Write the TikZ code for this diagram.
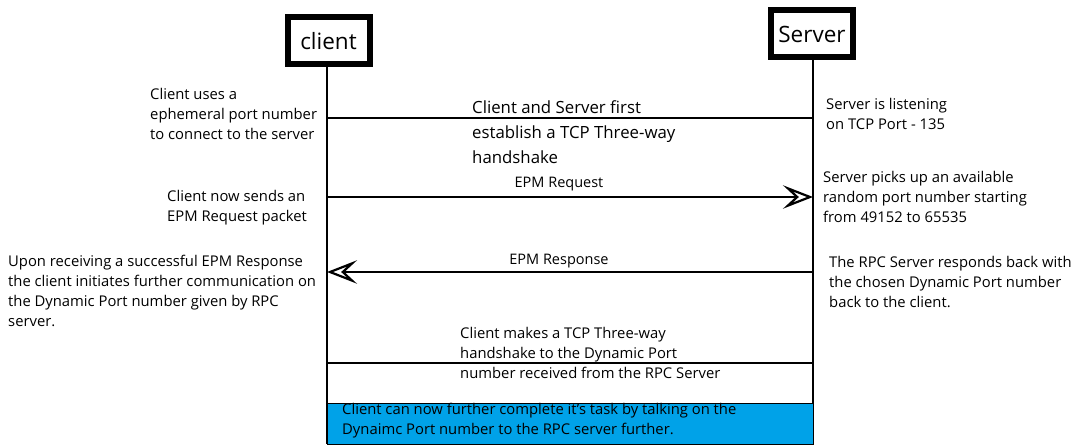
\documentclass[tikz,border=0pt]{standalone}
\usepackage{fontspec}
\setmainfont{Open Sans}
\usepackage{xcolor}
\usetikzlibrary{arrows.meta}
\definecolor{taskcolor}{HTML}{00A2E8}
\tikzset{
  actor/.style={draw, rectangle, line width=6pt, minimum width=82pt, minimum height=47pt, inner sep=0pt, fill=white, font=\fontsize{22.5}{26}\selectfont},
  note/.style={anchor=north west, align=left, inner sep=0pt, font=\fontsize{14.8}{20}\selectfont},
  bignote/.style={anchor=north west, align=left, inner sep=0pt, font=\fontsize{16.8}{25}\selectfont},
  msglabel/.style={inner sep=0pt, font=\fontsize{14.5}{17}\selectfont},
  lifeline/.style={line width=1.6pt},
  msg/.style={line width=1.5pt},
  call/.style={line width=2pt, arrows={-Stealth[open, scale length=2.5, scale width=2.6, inset'=0pt 0.42, line width=2.2pt]}}
}
\begin{document}
\begin{tikzpicture}[x=1pt, y=-1pt]%
\useasboundingbox (0,0) rectangle (1072,446);%
\node[actor] (client) at (328.5,41) {client};%
\node[actor] (server) at (812,34) {Server};%
\coordinate (cend) at (327,444);%
\coordinate (send) at (813,444);%
\draw[lifeline] (client.south -| cend) -- (cend);%
\draw[lifeline] (server.south -| send) -- (send);%
\coordinate (c1) at (327,118);%
\coordinate (s1) at (813,118);%
\coordinate (c2) at (327,197);%
\coordinate (s2) at (813,197);%
\coordinate (c3) at (327,272);%
\coordinate (s3) at (813,272);%
\coordinate (c4) at (327,363);%
\coordinate (s4) at (813,363);%
\draw[msg] (c1) -- (s1);%
\draw[call] (c2) -- (s2);%
\draw[call] (s3) -- (c3);%
\draw[msg] (c4) -- (s4);%
\node[draw, line width=1.2pt, fill=taskcolor, minimum width=486pt, minimum height=41pt, anchor=north west, inner sep=0pt] (task) at (327,403) {};%
\node[note] (tasktext) at (342,403) {Client can now further complete it's task by talking on the\\Dynaimc Port number to the RPC server further.};%
\node[msglabel] (reqlabel) at (559,184) {EPM Request};%
\node[msglabel] (resplabel) at (559,261) {EPM Response};%
\node[note] (cnote1) at (150,88) {Client uses a\\ephemeral port number\\to connect to the server};%
\node[bignote] (handshake) at (472,100) {Client and Server first\\establish a TCP Three-way\\handshake};%
\node[note] (snote1) at (826,98) {Server is listening\\on TCP Port - 135};%
\node[note] (cnote2) at (167,190) {Client now sends an\\EPM Request packet};%
\node[note] (snote2) at (823,171) {Server picks up an available\\random port number starting\\from 49152 to 65535};%
\node[note] (cnote3) at (8,255) {Upon receiving a successful EPM Response\\the client initiates further communication on\\the Dynamic Port number given by RPC\\server.};%
\node[note] (snote3) at (829,256) {The RPC Server responds back with\\the chosen Dynamic Port number\\back to the client.};%
\node[note] (dynnote) at (460,327) {Client makes a TCP Three-way\\handshake to the Dynamic Port\\number received from the RPC Server};%
\end{tikzpicture}
\end{document}
